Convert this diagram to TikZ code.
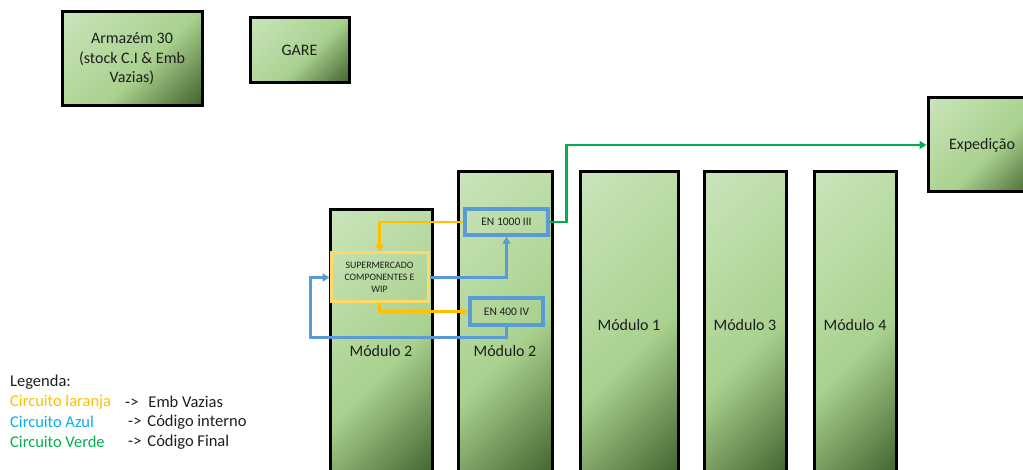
\documentclass[tikz,border=0pt]{standalone}
\usepackage{fontspec}
\setmainfont{Carlito}
\usetikzlibrary{arrows.meta}

\definecolor{gLight}{HTML}{CAE4BA}
\definecolor{gMid}{HTML}{A9D18E}
\definecolor{gDark}{HTML}{385723}
\definecolor{txt}{HTML}{1E1E1E}
\definecolor{cOrange}{HTML}{FFC000}
\definecolor{cYellow}{HTML}{FFD966}
\definecolor{cBlue}{HTML}{5B9BD5}
\definecolor{cGreen}{HTML}{00B050}
\definecolor{cCyan}{HTML}{00B0F0}

% diagonal fill: light in the upper left, dark in the lower right
\pgfdeclarehorizontalshading{modgrad}{100bp}{color(0bp)=(gLight); color(15bp)=(gLight); color(56bp)=(gMid); color(88bp)=(gDark); color(100bp)=(gDark)}

\tikzset{
  block/.style={draw=black, line width=3pt, shade, shading=modgrad, shading angle=-45,
    inner sep=0pt, text=txt, align=center, font=\fontsize{16}{19.5}\selectfont},
  lbl/.style={inner sep=0pt, text=txt, font=\fontsize{16}{19}\selectfont},
  station/.style={draw=cBlue, line width=3.5pt, inner sep=0pt, text=txt,
    font=\fontsize{11.5}{13}\selectfont},
  market/.style={draw=cYellow, line width=3pt, inner sep=0pt, text=txt, align=center,
    font=\fontsize{9.8}{12}\selectfont},
  flow/.style={line width=2.6pt, -{Triangle[length=7pt,width=8pt]}},
  legend/.style={anchor=west, inner sep=0pt, font=\fontsize{16.5}{20}\selectfont},
}

\begin{document}
\begin{tikzpicture}[x=1pt, y=-1pt]
\clip (0,0) rectangle (1023,470);
\fill[white] (0,0) rectangle (1023,470);

% storage and shipping areas
\node[block, minimum width=140, minimum height=94] (arm) at (132,59)
  {Armazém 30\\(stock C.I \& Emb\\Vazias)};
\node[block, minimum width=99, minimum height=65] (gare) at (299.5,50.5) {GARE};
\node[block, minimum width=108, minimum height=94, text width=108] (exp) at (982,145) {Expedição};

% production modules
\node[block, minimum width=102, minimum height=268] (modA) at (381,344) {};
\node[block, minimum width=94, minimum height=306] (modB) at (505,325) {};
\node[block, minimum width=98, minimum height=306] (mod1) at (629,325) {};
\node[block, minimum width=82, minimum height=306] (mod3) at (745,325) {};
\node[block, minimum width=82, minimum height=306] (mod4) at (855,325) {};

\node[lbl] (lblA) at (381,351) {Módulo 2};
\node[lbl] (lblB) at (505,351) {Módulo 2};
\node[lbl] (lbl1) at (629,325) {Módulo 1};
\node[lbl] (lbl3) at (745,325) {Módulo 3};
\node[lbl] (lbl4) at (855,325) {Módulo 4};

% supermarket and work stations
\node[market, minimum width=97, minimum height=49] (sup) at (379.5,277.5)
  {SUPERMERCADO\\COMPONENTES E\\WIP};
\node[station, minimum width=83, minimum height=26] (enA) at (506.5,222) {EN 1000 III};
\node[station, minimum width=73, minimum height=27] (enB) at (506.5,311.5) {EN 400 IV};

% empty packaging circuit
\draw[flow, cOrange] (enA.west) -| (sup.north);
\draw[flow, cOrange] (sup.south) |- (enB.west);

% internal code circuit
\draw[flow, cBlue] (sup.east) -| (enA.south);
\draw[flow, cBlue] (enB.south) -- ++(0,11) -| ([xshift=-19pt]sup.west) -- (sup.west);

% final code circuit
\draw[flow, cGreen] (enA.east) -- ++(17,0) |- (exp.west);

% legend
\node[legend, text=txt] (leg0) at (10,382) {Legenda:};
\node[legend, text=cOrange] (leg1) at (10,402) {Circuito laranja};
\node[legend, text=cCyan] (leg2) at (10,422) {Circuito Azul};
\node[legend, text=cGreen] (leg3) at (10,442) {Circuito Verde};
\node[legend, text=txt] (leg1b) at (125,402) {->\hspace{10pt}Emb Vazias};
\node[legend, text=txt] (leg2b) at (128,422) {->\hspace{6pt}Código interno};
\node[legend, text=txt] (leg3b) at (128,442) {->\hspace{6pt}Código Final};
\end{tikzpicture}
\end{document}
